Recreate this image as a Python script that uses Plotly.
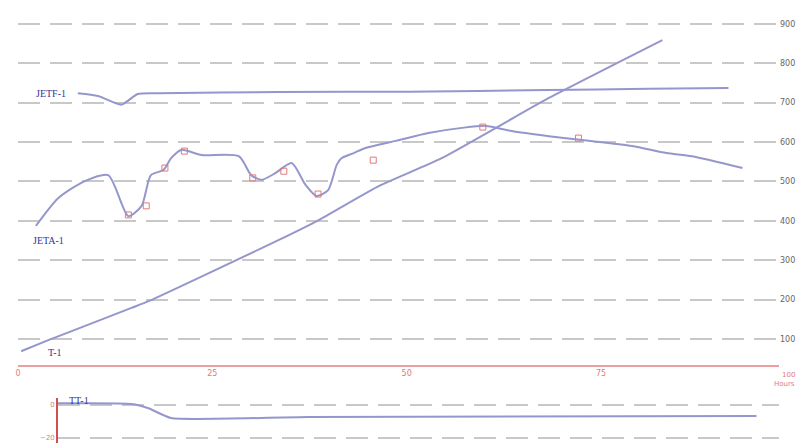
import plotly.graph_objects as go

# ---- data (hours vs value) ----
jetf_x = [7.7, 10.3, 13.3, 15.4, 18.0, 33.5, 50.2, 68.2, 81.1, 91.4]
jetf_y = [724, 717, 695, 722, 724, 727, 728, 732, 735, 737]

jeta_x = [2.3, 5.2, 8.6, 11.6, 14.2, 15.9, 17.1, 18.7, 19.7, 21.0, 23.6, 28.4, 30.0, 31.3,
          33.1, 35.2, 37.0, 38.4, 39.9, 41.0, 41.6, 43.2, 44.7, 48.6, 52.8, 57.1, 60.2,
          63.5, 68.3, 72.6, 79.0, 83.4, 86.7, 93.2]
jeta_y = [387, 458, 501, 516, 412, 438, 516, 529, 559, 580, 567, 564, 516, 504,
          521, 547, 491, 463, 478, 542, 559, 572, 585, 603, 623, 636, 641,
          628, 615, 605, 590, 572, 564, 534]

mark_x = [14.2, 16.5, 18.9, 21.4, 30.2, 34.2, 38.6, 45.7, 59.8, 72.1]
mark_y = [415, 438, 534, 577, 509, 526, 468, 554, 638, 610]

t_x = [0.4, 3.9, 14.6, 16.8, 33.5, 38.7, 46.4, 54.5, 68.3, 82.9]
t_y = [69, 97, 179, 196, 351, 402, 488, 559, 712, 859]

tt_x = [5.15, 14.6, 16.8, 19.7, 37.4, 95.0]
tt_y = [1.0, 0.6, -2.0, -7.9, -7.3, -6.7]

x_ticks = [0, 25, 50, 75]
x_end_label = "100"
x_title = "Hours"
y_ticks = [100, 200, 300, 400, 500, 600, 700, 800, 900]
y2_ticks = [0, -20]

line_col = "#9596cc"
red = "#e27a7a"
grid_col = "#c8c8c8"
label_col = "#33339a"

fig = go.Figure()
fig.add_trace(go.Scatter(x=jetf_x, y=jetf_y, mode="lines", line=dict(color=line_col, width=2, shape="spline", smoothing=0.6),
                         xaxis="x", yaxis="y", showlegend=False, hoverinfo="skip"))
fig.add_trace(go.Scatter(x=jeta_x, y=jeta_y, mode="lines", line=dict(color=line_col, width=2, shape="spline", smoothing=0.7),
                         xaxis="x", yaxis="y", showlegend=False, hoverinfo="skip"))
fig.add_trace(go.Scatter(x=t_x, y=t_y, mode="lines", line=dict(color=line_col, width=2, shape="spline", smoothing=0.5),
                         xaxis="x", yaxis="y", showlegend=False, hoverinfo="skip"))
fig.add_trace(go.Scatter(x=mark_x, y=mark_y, mode="markers", marker=dict(color=red, size=6, symbol="square-open", line=dict(width=1, color=red)),
                         xaxis="x", yaxis="y", showlegend=False, hoverinfo="skip"))
fig.add_trace(go.Scatter(x=tt_x, y=tt_y, mode="lines", line=dict(color=line_col, width=2, shape="spline", smoothing=0.5),
                         xaxis="x2", yaxis="y2", showlegend=False, hoverinfo="skip"))

x_max = 97.9
fig.update_layout(
    width=807, height=443,
    margin=dict(l=10, r=36, t=8, b=0),
    paper_bgcolor="white", plot_bgcolor="white",
    font=dict(family="DejaVu Sans", size=8, color="#555"),
    xaxis=dict(domain=[0, 1], range=[0, x_max], anchor="y", tickvals=x_ticks,
               showgrid=False, zeroline=False, showline=True, linecolor="#eaa0a0", linewidth=1.5,
               tickfont=dict(color=red, size=8), ticks=""),
    yaxis=dict(domain=[0.1977, 1], range=[34, 920], side="right", tickvals=y_ticks,
               showgrid=True, gridcolor=grid_col, gridwidth=1.5, griddash="22px,10px",
               zeroline=False, showline=False, ticks="",
               tickfont=dict(color="#666", size=8, family="DejaVu Sans")),
    xaxis2=dict(domain=[0.0525, 1], range=[5.15, x_max], anchor="y2", showticklabels=False,
                showgrid=False, zeroline=False, showline=False, ticks=""),
    yaxis2=dict(domain=[0, 0.1218], range=[-27.9, 4.24], anchor="x2", side="left", tickvals=y2_ticks,
                showgrid=True, gridcolor=grid_col, gridwidth=1.5, griddash="22px,10px",
                zeroline=False, showline=True, linecolor="#d05050", linewidth=1.5, ticks="",
                tickfont=dict(color=red, size=7)),
)

serif = "Liberation Serif"
fig.add_annotation(x=4.25, y=722, xref="x", yref="y", text="JETF-1", showarrow=False,
                   font=dict(family=serif, size=10, color=label_col), xanchor="center")
fig.add_annotation(x=3.9, y=351, xref="x", yref="y", text="JETA-1", showarrow=False,
                   font=dict(family=serif, size=10, color=label_col), xanchor="center")
fig.add_annotation(x=4.8, y=67, xref="x", yref="y", text="T-1", showarrow=False,
                   font=dict(family=serif, size=10, color=label_col), xanchor="center")
fig.add_annotation(x=7.9, y=3.0, xref="x", yref="y2", text="TT-1", showarrow=False,
                   font=dict(family=serif, size=10, color=label_col), xanchor="center")
fig.add_annotation(x=1.024, y=0.1977, xref="paper", yref="paper", text=x_end_label, showarrow=False,
                   font=dict(size=7, color=red), xanchor="right", yanchor="top", yshift=-4)
fig.add_annotation(x=1.024, y=0.1977, xref="paper", yref="paper", text=x_title, showarrow=False,
                   font=dict(size=7, color=red), xanchor="right", yanchor="top", yshift=-13)

fig.write_html("out.html")
